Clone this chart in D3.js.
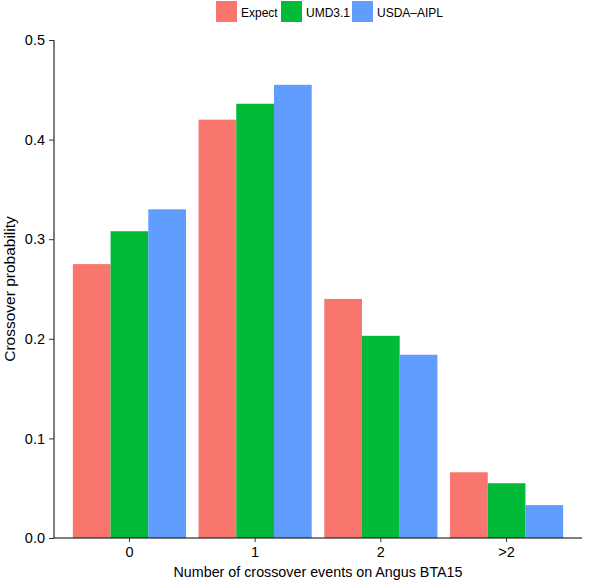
<!DOCTYPE html>
<html><head><meta charset="utf-8">
<script src="https://cdn.jsdelivr.net/npm/d3@7"></script>
<style>body{margin:0;background:#fff}svg{display:block}text{font-family:"Liberation Sans",Arial,Helvetica,sans-serif}</style>
</head><body>
<svg id="c" width="600" height="580"></svg>
<script>
const categories = ["0", "1", "2", ">2"];
const seriesNames = ["Expect", "UMD3.1", "USDA\u2013AIPL"];
const expectVals = [0.275, 0.420, 0.240, 0.066];
const umdVals = [0.308, 0.436, 0.203, 0.055];
const usdaVals = [0.330, 0.455, 0.184, 0.033];
const colors = ["#F8766D", "#00BA38", "#619CFF"];
const yTicks = [0, 0.1, 0.2, 0.3, 0.4, 0.5];

const series = [expectVals, umdVals, usdaVals];
const svg = d3.select("#c");
const m = {l: 54, r: 18, t: 40, b: 42};
const W = 600, H = 580;
const x = d3.scaleBand().domain(categories)
  .range([m.l, W - m.r]).paddingInner(0.1).paddingOuter(0.15);
const x1 = d3.scaleBand().domain(seriesNames).range([0, x.bandwidth()]);
const y = d3.scaleLinear().domain([0, 0.5]).range([H - m.b, m.t]);

const g = svg.append("g");
categories.forEach((c, i) => {
  series.forEach((s, j) => {
    g.append("rect")
      .attr("x", x(c) + x1(seriesNames[j]))
      .attr("y", y(s[i]))
      .attr("width", x1.bandwidth())
      .attr("height", y(0) - y(s[i]))
      .attr("fill", colors[j]);
  });
});

const ya = svg.append("g").attr("transform", `translate(${m.l},0)`)
  .call(d3.axisLeft(y).tickValues(yTicks).tickFormat(d3.format(".1f")).tickSize(5).tickPadding(4));
ya.select(".domain").attr("d", `M0,${y(0)}V${y(0.5)}`).attr("stroke", "#000").attr("stroke-width", 1);
ya.selectAll(".tick line").attr("stroke", "#333");
ya.selectAll("text").attr("font-size", 14.5).attr("fill", "#000").attr("font-family", "Liberation Sans, Arial, sans-serif");

const xa = svg.append("g").attr("transform", `translate(0,${y(0)})`)
  .call(d3.axisBottom(x).tickSize(4).tickPadding(5));
xa.select(".domain").attr("d", `M${m.l},0H${W - m.r}`).attr("stroke", "#000").attr("stroke-width", 1);
xa.selectAll(".tick line").attr("stroke", "#333");
xa.selectAll("text").attr("font-size", 14.5).attr("fill", "#000").attr("font-family", "Liberation Sans, Arial, sans-serif");

svg.append("text").attr("x", (m.l + W - m.r) / 2).attr("y", 577)
  .attr("text-anchor", "middle").attr("font-size", 14.3).text("Number of crossover events on Angus BTA15");
svg.append("text").attr("transform", `translate(15,${(y(0) + y(0.5)) / 2}) rotate(-90)`)
  .attr("text-anchor", "middle").attr("font-size", 15.5).text("Crossover probability");

const legX = [216, 281, 352];
seriesNames.forEach((n, j) => {
  svg.append("rect").attr("x", legX[j]).attr("y", 1).attr("width", 21).attr("height", 21).attr("fill", colors[j]);
  svg.append("text").attr("x", legX[j] + 25).attr("y", 17).attr("font-size", 12).text(n);
});
</script>
</body></html>
